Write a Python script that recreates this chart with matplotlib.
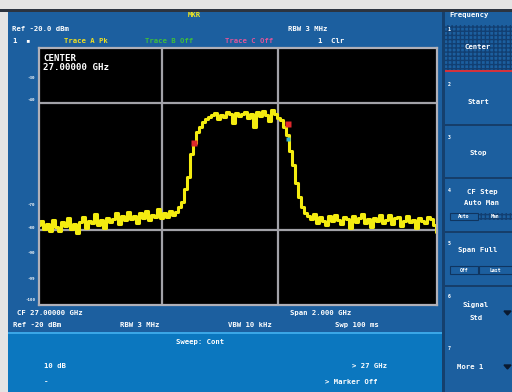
import numpy as np
import matplotlib.pyplot as plt
from matplotlib.patches import Rectangle, Polygon

# sweep setup
center_ghz = 27.0
span_ghz = 2.0
ref_dbm = -20.0
range_db = 80.0

# trace A, dBm per sweep point
levels = [
    -75.2, -73.8, -76.4, -74.9, -77.1, -73.5, -75.8, -76.9, -74.2, -75.5,
    -72.9, -76.3, -74.8, -77.5, -74.1, -72.6, -75.9, -73.7, -74.6, -71.8,
    -75.2, -73.4, -76.0, -72.9, -74.1, -73.2, -71.5, -74.8, -72.4, -73.6,
    -70.9, -73.1, -72.2, -74.5, -71.3, -72.8, -70.6, -73.4, -71.9, -72.5,
    -70.2, -73.0, -71.4, -72.6, -70.8, -72.1, -71.0, -69.5,
    -68.0, -64.0, -60.0, -53.0, -49.5, -46.0, -44.5, -43.0, -42.2, -41.5,
    -41.0, -40.3, -42.1, -40.8, -41.6, -39.9, -40.7, -43.5, -40.2, -41.1,
    -40.5, -39.8, -41.9, -40.4, -44.6, -40.0, -41.3, -39.6, -40.9, -42.8,
    -39.4, -40.6, -41.8,
    -42.5, -44.5, -47.0, -52.0, -56.5, -62.0, -66.5, -69.5, -71.5, -72.2,
    -73.1, -71.8, -74.6, -72.5, -73.9, -75.2, -72.3, -74.0, -71.9, -73.6,
    -74.8, -72.7, -73.3, -76.1, -72.4, -74.2, -73.0, -71.6, -74.5, -73.2,
    -75.6, -72.8, -73.9, -72.1, -74.4, -73.5, -71.9, -74.9, -73.0, -72.6,
    -75.3, -73.7, -72.2, -74.1, -73.4, -76.0, -72.9, -73.8, -74.6, -72.5,
    -73.1, -75.0, -77.2,
]
marker_freqs = [26.78, 27.25]
marker_levels = [-49.6, -43.6]
delta_freqs = [27.25]
delta_levels = [-48.2]
grid_freqs = [26.62, 27.20]
grid_levels = [-37.2, -76.6]

freqs = np.linspace(center_ghz - span_ghz / 2, center_ghz + span_ghz / 2, len(levels))

W, H = 512, 392
fig = plt.figure(figsize=(W / 100, H / 100), dpi=100, facecolor='#e4e4e4')

# full-figure layer in pixel units for the instrument panels
bg = fig.add_axes([0, 0, 1, 1])
bg.set_xlim(0, W)
bg.set_ylim(H, 0)
bg.axis('off')

def rect(x, y, w, h, **kw):
    bg.add_patch(Rectangle((x, y), w, h, **kw))

rect(8, 10, W - 8, H - 10, color='#1c5f9f', lw=0)
rect(0, 9, W, 2.5, color='#2c3440', lw=0)
rect(8, 333, 435, 59, color='#0b77bf', lw=0)
rect(8, 332, 435, 1.8, color='#3aa6e6', lw=0)

# soft key column
rect(442, 12, 2.5, H, color='#15406e', lw=0)
rect(445, 25, 67, 45, facecolor='#1c5f9f', edgecolor='#123f72', hatch='++++', lw=0)
rect(445, 70, 67, 2, color='#d2323c', lw=0)
for yy in [124, 177, 231, 285]:
    rect(445, yy, 67, 2, color='#163e6a', lw=0)
rect(450, 213, 28, 7, fill=False, ec='#0f3560', lw=0.8)
rect(479, 213, 33, 7, facecolor='#1c5f9f', edgecolor='#123f72', hatch='++++', lw=0)
rect(450, 266, 28, 8, fill=False, ec='#0f3560', lw=0.8)
rect(479, 266, 33, 8, fill=False, ec='#0f3560', lw=0.8)
for ty in [313, 367]:
    bg.add_patch(Polygon([[504, ty - 2], [511, ty - 2], [507.5, ty + 2]], color='#0a1a30'))

mono = dict(family='DejaVu Sans Mono', fontweight='bold', va='center')

def label(x, y, s, size=5.2, color='white', ha='left'):
    bg.text(x, y, s, fontsize=size, color=color, ha=ha, **mono)

label(188, 15, 'MKR', color='#f4e81c')
label(12, 29, 'Ref -20.0 dBm')
label(288, 29, 'RBW 3 MHz')
label(13, 41, '1  ▪')
label(64, 41, 'Trace A Pk', color='#f0e020')
label(145, 41, 'Trace B Off', color='#3fbf3a')
label(225, 41, 'Trace C Off', color='#e0559a')
label(318, 41, '1  Clr')

for yy, s in [(78, '-30'), (100, '-40'), (205, '-70'), (228, '-80'), (253, '-90'), (279, '-99'), (300, '-100')]:
    label(35, yy, s, size=3.0, ha='right')

label(17, 313, 'CF 27.00000 GHz')
label(290, 313, 'Span 2.000 GHz')
label(13, 325, 'Ref -20 dBm')
label(120, 325, 'RBW 3 MHz')
label(228, 325, 'VBW 10 kHz')
label(335, 325, 'Swp 100 ms')
label(176, 342, 'Sweep: Cont')
label(44, 366, '10 dB')
label(352, 366, '> 27 GHz')
label(44, 382, '-')
label(325, 382, '> Marker Off')

label(449, 15, 'Frequency')
label(448, 29, '1', size=3.5)
label(478, 47, 'Center', ha='center')
label(448, 84, '2', size=3.5)
label(478, 102, 'Start', ha='center')
label(448, 137, '3', size=3.5)
label(478, 153, 'Stop', ha='center')
label(448, 190, '4', size=3.5)
label(482, 192, 'CF Step', ha='center')
label(482, 203, 'Auto Man', ha='center')
label(464, 216.5, 'Auto', size=3.5, ha='center')
label(495, 216.5, 'Man', size=3.5, ha='center')
label(448, 243, '5', size=3.5)
label(478, 250, 'Span Full', ha='center')
label(464, 270, 'Off', size=3.5, ha='center')
label(495, 270, 'Last', size=3.5, ha='center')
label(448, 296, '6', size=3.5)
label(476, 305, 'Signal', ha='center')
label(476, 318, 'Std', ha='center')
label(448, 348, '7', size=3.5)
label(470, 367, 'More 1', ha='center')

# trace display
ax = fig.add_axes([39 / W, 1 - 305 / H, 398 / W, 257 / H], facecolor='black')
ax.set_xlim(freqs[0], freqs[-1])
ax.set_ylim(ref_dbm - range_db, ref_dbm)
for f in grid_freqs:
    ax.axvline(f, color='#a2a2a8', lw=1.6)
for lv in grid_levels:
    ax.axhline(lv, color='#a2a2a8', lw=1.6)
ax.plot(freqs, levels, color='#f4ec10', lw=2.2, drawstyle='steps-mid')
ax.plot(marker_freqs, marker_levels, 's', color='#e0282c', ms=4, mec='none')
ax.plot(delta_freqs, delta_levels, 's', color='#30b0d0', ms=2.5, mec='none')
ax.set_xticks([])
ax.set_yticks([])
for side in ax.spines.values():
    side.set_color('#b0b0b8')
    side.set_linewidth(1.6)

ax.text(0.01, 0.975, 'CENTER\n27.00000 GHz', transform=ax.transAxes, color='white',
        fontsize=6.6, family='DejaVu Sans Mono', fontweight='bold', va='top',
        linespacing=1.0)

fig.savefig('out.png', dpi=100, facecolor=fig.get_facecolor())
